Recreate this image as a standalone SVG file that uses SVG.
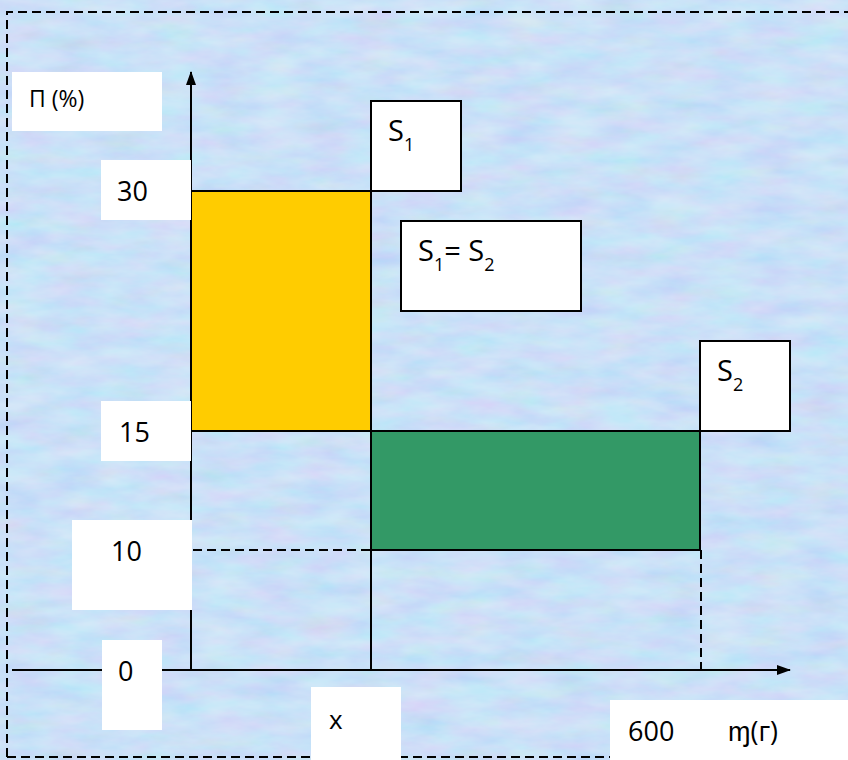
<svg xmlns="http://www.w3.org/2000/svg" width="848" height="760" viewBox="0 0 848 760">
<defs>
<style>
.lbl{fill:#ffffff;stroke:none}
.box{fill:#ffffff;stroke:#000;stroke-width:2}
.t{font-family:"Open Sans","Liberation Sans",sans-serif;fill:#000}
.num{font-size:27px}
.s{font-size:29px}
.sub{font-size:18px}
.ax{stroke:#000;stroke-width:2;fill:none}
.dash{stroke:#000;stroke-width:2;fill:none;stroke-dasharray:9 5}
</style>
<filter id="tex" x="0" y="0" width="100%" height="100%">
<feTurbulence type="fractalNoise" baseFrequency="0.02 0.06" numOctaves="4" seed="7" result="n"/>
<feColorMatrix in="n" type="matrix" values="0.7 0 0 0 0.3  0 0.6 0 0 0.55  0 0 0.5 0 0.75  0 0 0 0 0.4"/>
</filter>
<marker id="arr" viewBox="0 0 14 10" refX="13" refY="5" markerWidth="14" markerHeight="10" markerUnits="userSpaceOnUse" orient="auto">
<path d="M0,0 L14,5 L0,10 z" fill="#000"/>
</marker>
</defs>
<rect x="0" y="0" width="848" height="760" fill="#c4d8f4"/>
<rect x="0" y="0" width="848" height="760" filter="url(#tex)"/>
<path d="M7,757 L7,12 L848,12" class="dash"/>
<path d="M7,757 L848,757" class="dash"/>

<g id="connectors">
<line x1="12" y1="670" x2="790" y2="670" class="ax" marker-end="url(#arr)"/>
<line x1="191" y1="670" x2="191" y2="72" class="ax" marker-end="url(#arr)"/>
<line x1="371" y1="431" x2="371" y2="670" class="ax"/>
<line x1="193" y1="550" x2="371" y2="550" class="dash"/>
<line x1="701" y1="550" x2="701" y2="670" class="dash"/>
</g>

<g id="rect-s1-area"><rect x="191" y="191" width="180" height="240" fill="#ffcc00" stroke="#000" stroke-width="2"/></g>
<g id="rect-s2-area"><rect x="371" y="431" width="329" height="119" fill="#339966" stroke="#000" stroke-width="2"/></g>

<g id="label-p"><rect x="12" y="72" width="150" height="59" class="lbl"/><text x="29" y="107" class="t" font-size="23">П (%)</text></g>
<g id="label-30"><rect x="101" y="160" width="90" height="60" class="lbl"/><text x="117" y="201" class="t num">30</text></g>
<g id="label-15"><rect x="101" y="401" width="90" height="60" class="lbl"/><text x="119" y="442" class="t num">15</text></g>
<g id="label-10"><rect x="72" y="520" width="120" height="90" class="lbl"/><text x="111" y="561" class="t num">10</text></g>
<g id="label-0"><rect x="102" y="640" width="60" height="90" class="lbl"/><text x="118" y="681" class="t num">0</text></g>
<g id="label-x"><rect x="311" y="687" width="90" height="73" class="lbl"/><text x="329" y="729" class="t" font-size="26">x</text></g>
<g id="label-600"><rect x="610" y="700" width="238" height="60" class="lbl"/><text x="628" y="741" class="t num">600</text><text x="728" y="741" class="t num">ɱ(г)</text></g>

<g id="box-s1"><rect x="371" y="101" width="90" height="90" class="box"/><text x="388" y="141" class="t s">S<tspan class="sub" dy="10">1</tspan></text></g>
<g id="box-s1s2"><rect x="401" y="221" width="180" height="90" class="box"/><text x="418" y="261" class="t s">S<tspan class="sub" dy="10">1</tspan><tspan dy="-10">= S</tspan><tspan class="sub" dy="10">2</tspan></text></g>
<g id="box-s2"><rect x="700" y="341" width="90" height="90" class="box"/><text x="717" y="381" class="t s">S<tspan class="sub" dy="10">2</tspan></text></g>
</svg>
